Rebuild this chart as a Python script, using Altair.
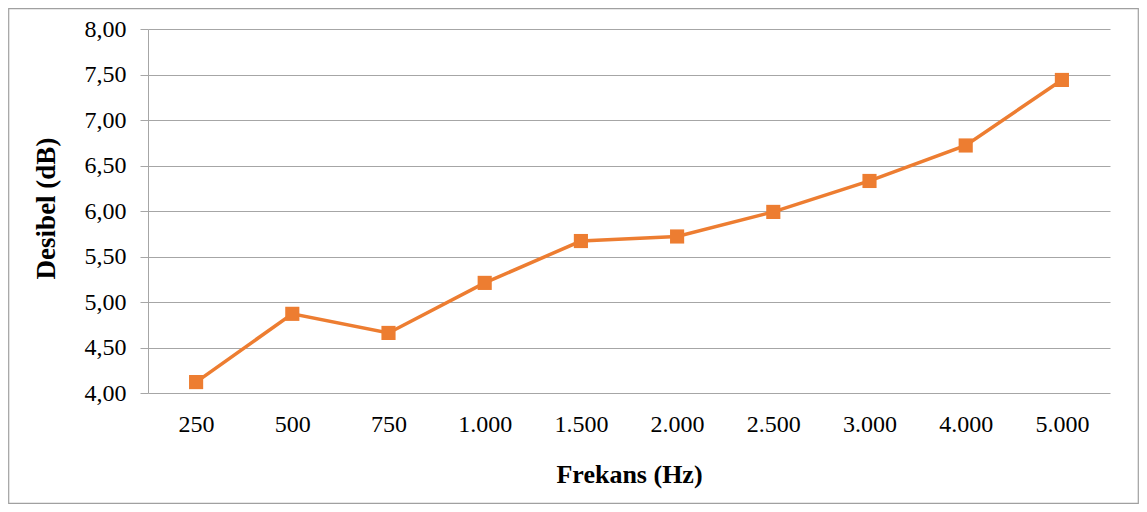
import altair as alt
import pandas as pd

categories = ["250", "500", "750", "1.000", "1.500", "2.000", "2.500", "3.000", "4.000", "5.000"]
values = [4.12, 4.87, 4.66, 5.21, 5.67, 5.72, 5.99, 6.33, 6.72, 7.44]
y_ticks = [4.0, 4.5, 5.0, 5.5, 6.0, 6.5, 7.0, 7.5, 8.0]

df = pd.DataFrame({"Frekans": categories, "Desibel": values})

FONT = "Liberation Serif"
GRID = "#A6A6A6"
ORANGE = "#ED7D31"

W, H = 962, 364
PAD_L, PAD_T, PAD_R, PAD_B = 140, 21, 29, 111

x_enc = alt.X(
    "Frekans:N",
    sort=categories,
    scale=alt.Scale(type="point", padding=0.5),
    axis=alt.Axis(
        title="Frekans (Hz)",
        domain=False,
        ticks=False,
        grid=False,
        labelAngle=0,
        labelFont=FONT,
        labelFontSize=24,
        labelColor="#000000",
        labelPadding=19,
        titleFont=FONT,
        titleFontSize=26,
        titleFontWeight="bold",
        titleColor="#000000",
        titleX=W / 2,
        titleY=81,
        titleBaseline="middle",
        titleAlign="center",
    ),
)
y_enc = alt.Y(
    "Desibel:Q",
    scale=alt.Scale(domain=[4, 8], nice=False, zero=False),
    axis=alt.Axis(
        title="Desibel (dB)",
        values=y_ticks,
        labelExpr="replace(format(datum.value, '.2f'), '.', ',')",
        grid=True,
        gridColor=GRID,
        gridWidth=1,
        domainColor=GRID,
        tickColor=GRID,
        tickSize=8,
        labelFont=FONT,
        labelFontSize=24,
        labelColor="#000000",
        labelPadding=14,
        titleFont=FONT,
        titleFontSize=27,
        titleFontWeight="bold",
        titleColor="#000000",
        titleX=-102,
        titleY=H / 2 - 3,
        titleAngle=270,
        titleBaseline="middle",
        titleAlign="center",
    ),
)

line = alt.Chart(df).mark_line(color=ORANGE, strokeWidth=3.5).encode(x=x_enc, y=y_enc)
points = alt.Chart(df).mark_point(
    shape="square", filled=True, color=ORANGE, size=200, opacity=1
).encode(x=x_enc, y=y_enc)

frame = alt.Chart(pd.DataFrame({"a": [0]})).mark_rect(
    fillOpacity=0, stroke="#A0A0A0", strokeWidth=1.2
).encode(
    x=alt.value(-PAD_L + 0.7),
    x2=alt.value(W + PAD_R - 0.7),
    y=alt.value(-PAD_T + 0.7),
    y2=alt.value(H + PAD_B - 0.7),
)

chart = (
    alt.layer(frame, line, points)
    .properties(
        width=W,
        height=H,
        autosize=alt.AutoSizeParams(type="none"),
        padding={"left": PAD_L, "top": PAD_T, "right": PAD_R, "bottom": PAD_B},
        background="#ffffff",
    )
    .configure_view(stroke=None)
)

chart.save("out.html", embed_options={"renderer": "svg", "actions": False})
